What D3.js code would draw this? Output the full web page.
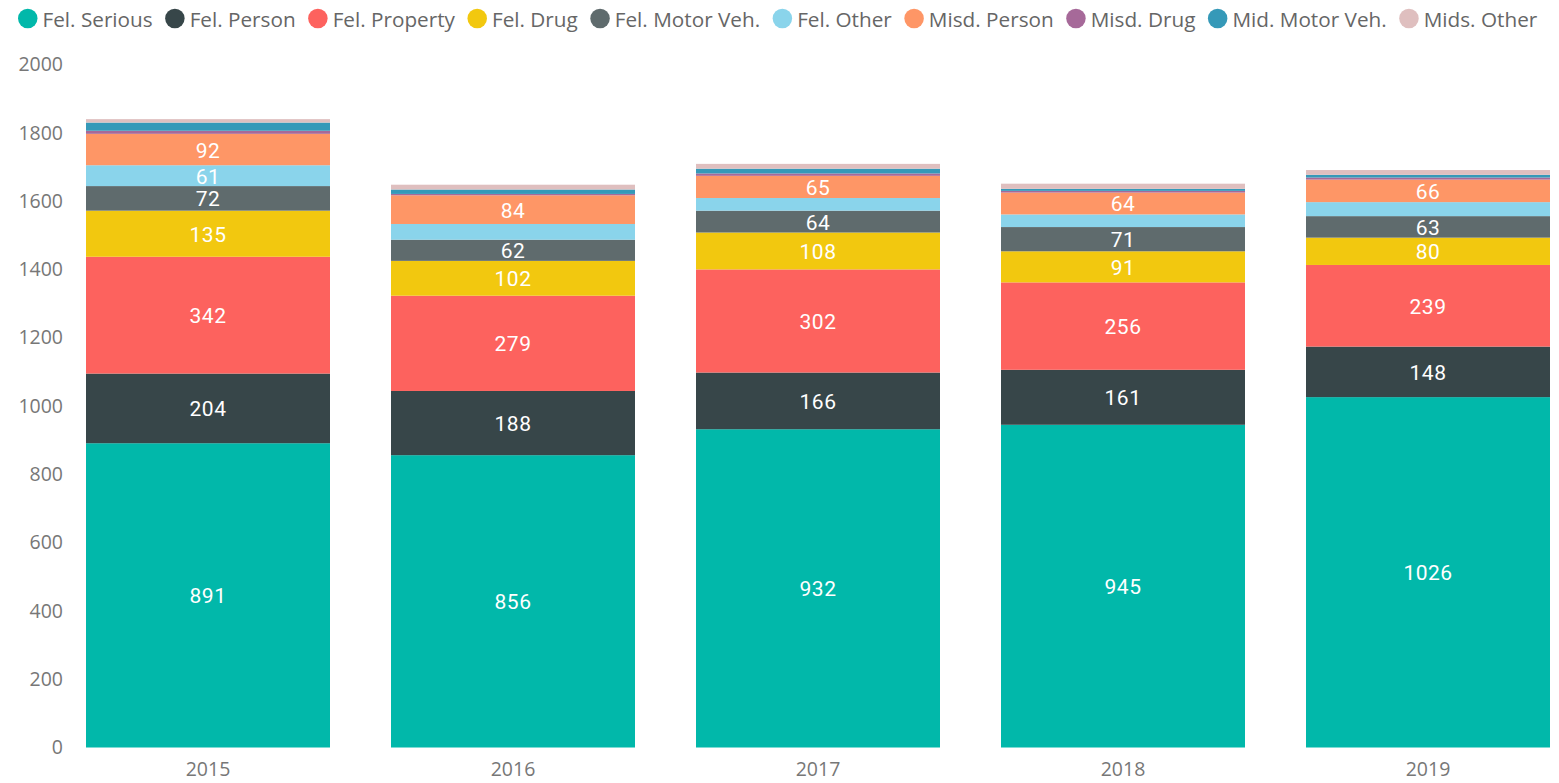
<!DOCTYPE html>
<html>
<head>
<meta charset="utf-8">
<script src="https://cdn.jsdelivr.net/npm/d3@7"></script>
<style>
  html, body { margin: 0; padding: 0; background: #fff; }
  svg { display: block; }
</style>
</head>
<body>
<svg id="chart" width="1559" height="783"></svg>
<script>
const years = ["2015", "2016", "2017", "2018", "2019"];
const seriesNames = ["Fel. Serious", "Fel. Person", "Fel. Property", "Fel. Drug", "Fel. Motor Veh.",
  "Fel. Other", "Misd. Person", "Misd. Drug", "Mid. Motor Veh.", "Mids. Other"];
const felSerious  = [891, 856, 932, 945, 1026];
const felPerson   = [204, 188, 166, 161, 148];
const felProperty = [342, 279, 302, 256, 239];
const felDrug     = [135, 102, 108, 91, 80];
const felMotorVeh = [72, 62, 64, 71, 63];
const felOther    = [61, 46, 37, 37, 41];
const misdPerson  = [92, 84, 65, 64, 66];
const misdDrug    = [9, 4, 7, 5, 6];
const midMotorVeh = [24, 13, 14, 6, 8];
const midsOther   = [10, 14, 14, 15, 14];
const yTicks = [0, 200, 400, 600, 800, 1000, 1200, 1400, 1600, 1800, 2000];
const colors = ["#01B8AA", "#374649", "#FD625E", "#F2C80F", "#5F6B6D",
  "#8AD4EB", "#FE9666", "#A66999", "#3599B8", "#DFBFBF"];

const seriesValues = [felSerious, felPerson, felProperty, felDrug, felMotorVeh,
  felOther, misdPerson, misdDrug, midMotorVeh, midsOther];

const rows = years.map((y, i) => {
  const r = { year: y };
  seriesNames.forEach((s, k) => r[s] = seriesValues[k][i]);
  return r;
});
const stacked = d3.stack().keys(seriesNames)(rows);

const svg = d3.select("#chart");
const uiFont = "'Open Sans', 'Noto Sans', sans-serif";

const x = d3.scaleBand().domain(years).range([86, 1550]).paddingInner(0.2).paddingOuter(0);
const y = d3.scaleLinear().domain([0, 2000]).range([747.5, 64.5]);
const color = d3.scaleOrdinal().domain(seriesNames).range(colors);

// Y axis
const yAxis = svg.append("g").attr("transform", "translate(63,0)")
  .call(d3.axisLeft(y).tickValues(yTicks).tickSize(0).tickPadding(0).tickFormat(d3.format("d")));
yAxis.select(".domain").remove();
yAxis.selectAll("text").attr("fill", "#777").style("font-family", uiFont).style("font-size", "19.5px");

// X axis
const xAxis = svg.append("g").attr("transform", "translate(0,759)")
  .call(d3.axisBottom(x).tickSize(0).tickPadding(3));
xAxis.select(".domain").remove();
xAxis.selectAll("text").attr("fill", "#777").style("font-family", uiFont).style("font-size", "19.5px");

// Bars
const layers = svg.append("g").selectAll("g").data(stacked).join("g")
  .attr("fill", d => color(d.key));
layers.selectAll("rect").data(d => d).join("rect")
  .attr("x", d => x(d.data.year))
  .attr("width", x.bandwidth())
  .attr("y", d => y(d[1]))
  .attr("height", d => y(d[0]) - y(d[1]));

// Data labels
const labelG = svg.append("g");
stacked.forEach(layer => {
  layer.forEach(d => {
    const h = y(d[0]) - y(d[1]);
    const v = d[1] - d[0];
    if (h < 18) return;
    labelG.append("text")
      .attr("x", x(d.data.year) + x.bandwidth() / 2)
      .attr("y", (y(d[0]) + y(d[1])) / 2 + 1)
      .attr("text-anchor", "middle")
      .attr("dominant-baseline", "central")
      .attr("fill", "#fff")
      .style("font-family", "Roboto, sans-serif")
      .style("font-size", "21px")
      .style("letter-spacing", "0.5px")
      .text(v);
  });
});

// Legend
const legend = svg.append("g");
const r = 9.75, gapCT = 5, gapItem = 12.5;
let fs = 20;
const items = legend.selectAll("g").data(seriesNames).join("g");
items.append("circle").attr("r", r).attr("fill", d => color(d));
const texts = items.append("text").text(d => d)
  .attr("fill", "#666").style("font-family", uiFont)
  .attr("dominant-baseline", "alphabetic");
function layout() {
  texts.style("font-size", fs + "px");
  let total = 0;
  texts.each(function() { total += this.getComputedTextLength(); });
  return total;
}
let tw = layout();
const targetText = 1162;
fs = fs * targetText / tw;
layout();
let cx = 18;
items.each(function() {
  const g = d3.select(this);
  const w = g.select("text").node().getComputedTextLength();
  g.select("circle").attr("cx", cx + r).attr("cy", 18.5);
  g.select("text").attr("x", cx + 2 * r + gapCT).attr("y", 26.5);
  cx += 2 * r + gapCT + w + gapItem;
});
</script>
</body>
</html>
